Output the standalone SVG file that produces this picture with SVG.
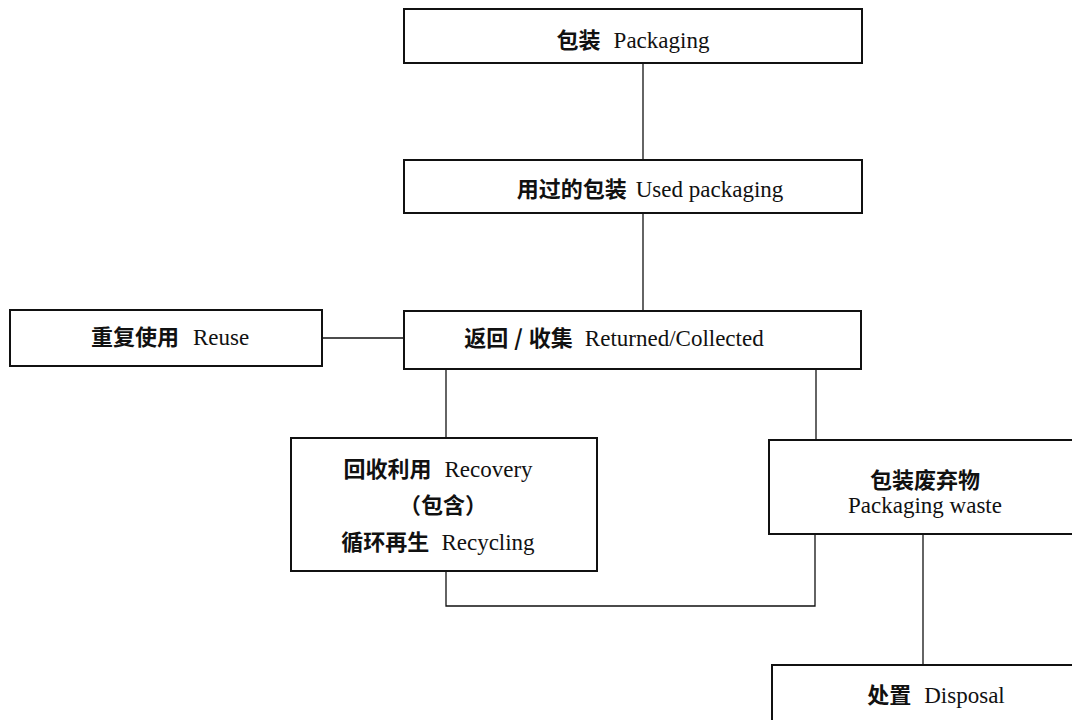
<svg xmlns="http://www.w3.org/2000/svg" width="1072" height="720" viewBox="0 0 1072 720">
<style>
.box{fill:#fff;stroke:#111;stroke-width:2}
.con{fill:none;stroke:#111;stroke-width:1.3}
text{font-family:"Liberation Serif","Noto Sans CJK SC",serif;font-size:23px;fill:#111;text-anchor:middle}
.zh{font-family:"Noto Sans CJK SC","Liberation Sans",sans-serif;font-weight:700;font-size:22px}
</style>
<rect width="1072" height="720" fill="#fff"/>
<g id="connectors">
<line class="con" x1="643" y1="63" x2="643" y2="160"/>
<line class="con" x1="643" y1="213" x2="643" y2="310"/>
<line class="con" x1="322" y1="338" x2="403" y2="338"/>
<line class="con" x1="446" y1="369" x2="446" y2="437"/>
<line class="con" x1="816" y1="369" x2="816" y2="440"/>
<polyline class="con" points="446,571 446,606 815,606 815,534"/>
<line class="con" x1="923" y1="534" x2="923" y2="665"/>
</g>
<g id="packaging">
<rect class="box" x="404" y="9" width="458" height="54"/>
<text x="633" y="48"><tspan class="zh">包装</tspan><tspan dx="13">Packaging</tspan></text>
</g>
<g id="used">
<rect class="box" x="404" y="160" width="458" height="53"/>
<text x="650" y="197"><tspan class="zh">用过的包装</tspan><tspan dx="9">Used packaging</tspan></text>
</g>
<g id="reuse">
<rect class="box" x="10" y="310" width="312" height="56"/>
<text x="170" y="345"><tspan class="zh">重复使用</tspan><tspan dx="14">Reuse</tspan></text>
</g>
<g id="returned">
<rect class="box" x="404" y="311" width="457" height="58"/>
<text x="614" y="346"><tspan class="zh">返回</tspan><tspan class="zh" dx="6">/</tspan><tspan class="zh" dx="6">收集</tspan><tspan dx="12">Returned/Collected</tspan></text>
</g>
<g id="recovery">
<rect class="box" x="291" y="438" width="306" height="133"/>
<text x="438" y="477"><tspan class="zh">回收利用</tspan><tspan dx="13">Recovery</tspan></text>
<text x="443" y="513" class="zh">（包含）</text>
<text x="438" y="550"><tspan class="zh">循环再生</tspan><tspan dx="12">Recycling</tspan></text>
</g>
<g id="waste">
<rect class="box" x="769" y="440" width="320" height="94"/>
<text x="925" y="488" class="zh">包装废弃物</text>
<text x="925" y="513">Packaging waste</text>
</g>
<g id="disposal">
<rect class="box" x="772" y="665" width="330" height="70"/>
<text x="936" y="703"><tspan class="zh">处置</tspan><tspan dx="13">Disposal</tspan></text>
</g>
</svg>
